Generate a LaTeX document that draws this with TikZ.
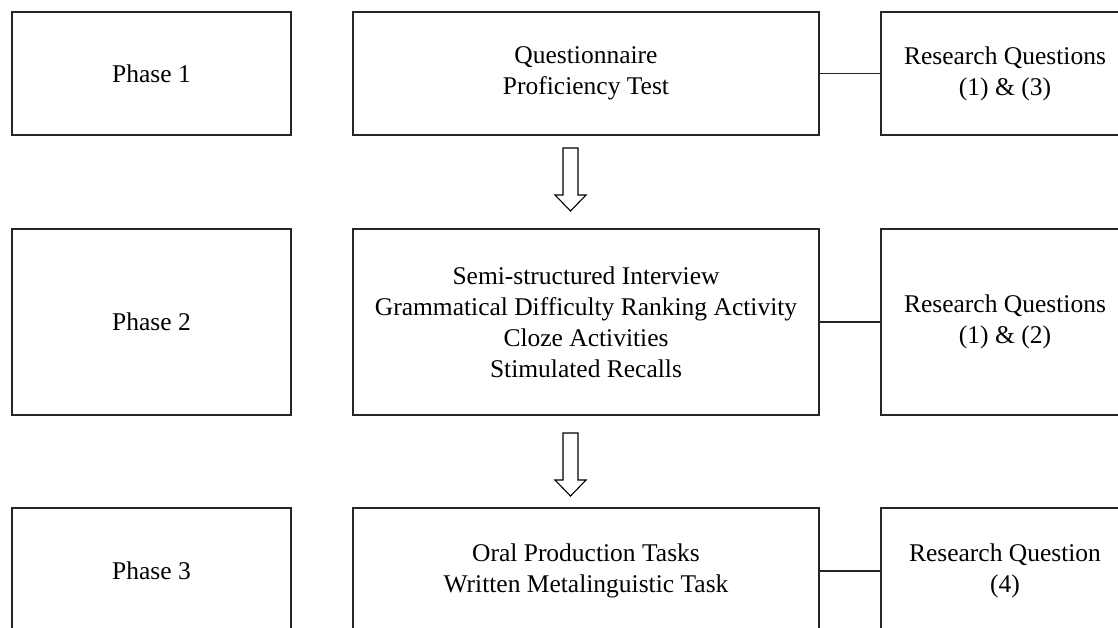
\documentclass[tikz,border=0pt]{standalone}
\usepackage{fontspec}
\setmainfont{Liberation Serif}
\begin{document}
\begin{tikzpicture}[x=1pt,y=-1pt,
  box/.style={draw=black!85,line width=1.3pt,rectangle,inner sep=0pt,align=center,
    font=\fontsize{25.5}{31}\selectfont},
  phasebox/.style={box,minimum width=279pt},
  midbox/.style={box,minimum width=466pt},
  rqbox/.style={box,minimum width=248pt},
  link/.style={draw=black!85,line width=1.3pt},
  blockarrow/.style={draw=black,line width=1.1pt,fill=white,line join=miter}]
\useasboundingbox (0,0) rectangle (1118,627);
\clip (0,0) rectangle (1118,627);
% row 1
\node[phasebox,minimum height=123pt] (p1) at (151.5,73.5) {Phase 1};
\node[midbox,minimum height=123pt] (m1) at (586,73.5) {Questionnaire\\Proficiency Test};
\node[rqbox,minimum height=123pt] (r1) at (1005,73.5) {Research Questions\\(1) \& (3)};
% row 2
\node[phasebox,minimum height=186pt] (p2) at (151.5,322) {Phase 2};
\node[midbox,minimum height=186pt] (m2) at (586,322) {Semi-structured Interview\\Grammatical Difficulty Ranking Activity\\Cloze Activities\\Stimulated Recalls};
\node[rqbox,minimum height=186pt] (r2) at (1005,322) {Research Questions\\(1) \& (2)};
% row 3
\node[phasebox,minimum height=126pt] (p3) at (151.5,571) {Phase 3};
\node[midbox,minimum height=126pt] (m3) at (586,571) {Oral Production Tasks\\Written Metalinguistic Task};
\node[rqbox,minimum height=126pt] (r3) at (1005,571) {Research Question\\(4)};
% links
\draw[link] (m1.east) -- (r1.west);
\draw[link] (m2.east) -- (r2.west);
\draw[link] (m3.east) -- (r3.west);
% block arrows
\coordinate (a1) at (570.5,148);
\coordinate (a2) at (570.5,433);
\foreach \a in {a1,a2}{
  \draw[blockarrow] ([xshift=-7.5pt]\a) -- ([xshift=7.5pt]\a) -- ([shift={(7.5,47)}]\a)
    -- ([shift={(15.5,47)}]\a) -- ([shift={(0,63)}]\a) -- ([shift={(-15.5,47)}]\a)
    -- ([shift={(-7.5,47)}]\a) -- cycle;
}
\end{tikzpicture}
\end{document}
